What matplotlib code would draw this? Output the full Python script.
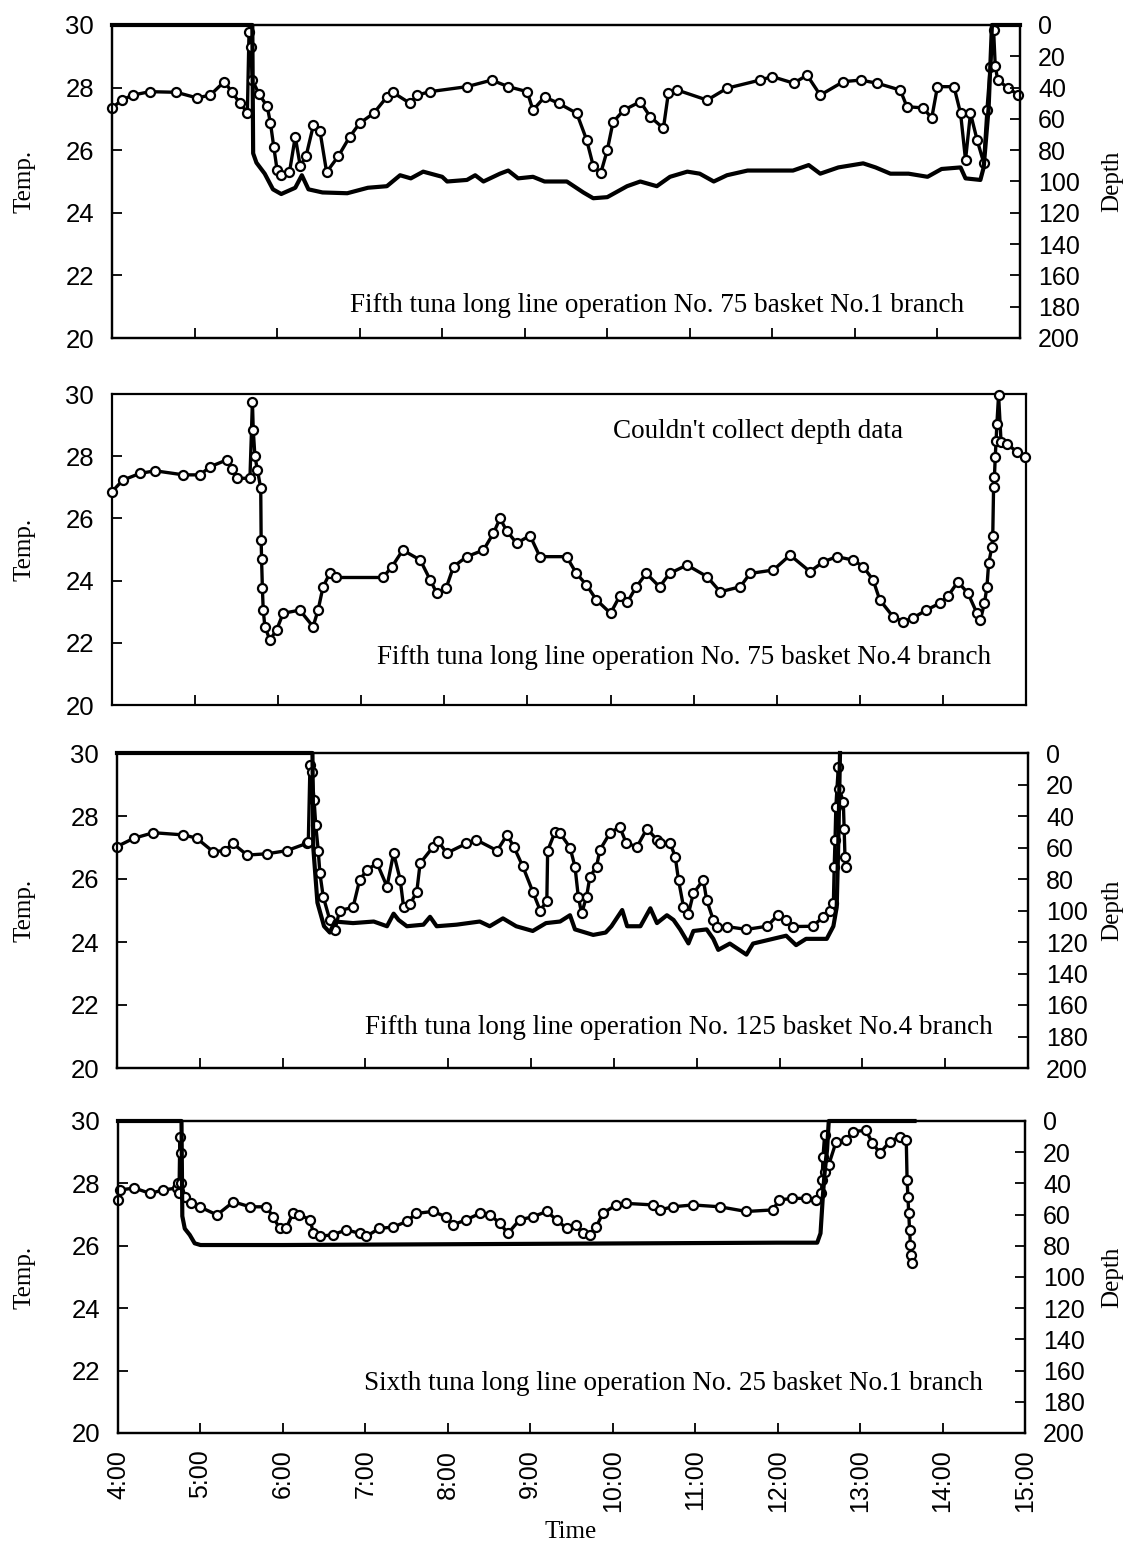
import matplotlib
matplotlib.use("Agg")
import matplotlib.pyplot as plt

# ---------------- data (time in decimal hours) ----------------
p1_temp_t = [4.00, 4.12, 4.25, 4.46, 4.78, 5.03, 5.19, 5.36, 5.45, 5.55, 5.64, 5.66, 5.68, 5.70, 5.78, 5.88,
             5.92, 5.96, 6.00, 6.05, 6.15, 6.22, 6.28, 6.35, 6.44, 6.52, 6.60, 6.74, 6.88, 7.00, 7.17, 7.33,
             7.40, 7.61, 7.70, 7.85, 8.30, 8.60, 8.80, 9.03, 9.10, 9.24, 9.41, 9.63, 9.75, 9.83, 9.92, 10.00,
             10.07, 10.20, 10.40, 10.52, 10.68, 10.74, 10.85, 11.21, 11.45, 11.85, 12.00, 12.26, 12.42, 12.58,
             12.86, 13.07, 13.27, 13.55, 13.63, 13.83, 13.93, 14.00, 14.20, 14.28, 14.34, 14.40, 14.48, 14.56,
             14.60, 14.64, 14.68, 14.70, 14.73, 14.85, 14.98]
p1_temp_v = [27.35, 27.60, 27.76, 27.87, 27.85, 27.67, 27.76, 28.19, 27.87, 27.50, 27.20, 29.79, 29.30, 28.24, 27.80, 27.40,
             26.86, 26.10, 25.37, 25.20, 25.30, 26.43, 25.50, 25.80, 26.80, 26.60, 25.30, 25.80, 26.43, 26.86, 27.18, 27.70,
             27.85, 27.50, 27.76, 27.87, 28.03, 28.24, 28.03, 27.87, 27.28, 27.70, 27.50, 27.18, 26.33, 25.50, 25.26, 26.00,
             26.90, 27.28, 27.55, 27.07, 26.70, 27.82, 27.92, 27.60, 27.98, 28.24, 28.35, 28.14, 28.40, 27.76,
             28.19, 28.24, 28.14, 27.92, 27.39, 27.35, 27.02, 28.03, 28.03, 27.18, 25.69, 27.18, 26.33, 25.60,
             27.30, 28.67, 29.84, 28.70, 28.24, 28.00, 27.76]
p1_depth_t = [4.00, 5.70, 5.71, 5.75, 5.85, 5.95, 6.05, 6.22, 6.30, 6.38, 6.55, 6.85, 7.10, 7.33, 7.49, 7.62,
              7.77, 8.00, 8.06, 8.30, 8.40, 8.50, 8.70, 8.80, 8.92, 9.10, 9.24, 9.51, 9.71, 9.83, 10.00, 10.24,
              10.40, 10.60, 10.76, 10.97, 11.12, 11.29, 11.45, 11.70, 12.05, 12.25, 12.44, 12.58, 12.80, 13.10,
              13.25, 13.43, 13.65, 13.88, 14.05, 14.28, 14.34, 14.52, 14.56, 14.62, 14.66, 15.00]
p1_depth_v = [0, 0, 82, 88, 95, 105, 108, 104, 96, 105, 107, 107.5, 104, 103, 96, 98,
              93.7, 97, 100, 99, 96, 100, 95, 93, 98, 97, 100, 100, 107, 110.7, 110, 103,
              100, 103, 97, 93.7, 95, 100, 96, 93, 93, 93, 89.5, 95, 91, 88.4,
              91, 95, 95, 97, 92, 91, 98, 99, 91, 53, 0, 0]

p2_temp_t = [4.00, 4.13, 4.34, 4.52, 4.86, 5.06, 5.18, 5.38, 5.45, 5.50, 5.66, 5.69, 5.70, 5.72, 5.75, 5.79,
             5.795, 5.80, 5.81, 5.82, 5.84, 5.90, 5.98, 6.06, 6.26, 6.42, 6.48, 6.54, 6.62, 6.70, 7.26, 7.37,
             7.50, 7.71, 7.83, 7.91, 8.02, 8.11, 8.27, 8.47, 8.59, 8.67, 8.75, 8.87, 9.03, 9.15, 9.47, 9.59,
             9.71, 9.83, 10.00, 10.11, 10.20, 10.31, 10.43, 10.59, 10.71, 10.92, 11.16, 11.32, 11.56, 11.68,
             11.96, 12.16, 12.40, 12.56, 12.72, 12.92, 13.04, 13.16, 13.24, 13.40, 13.52, 13.64, 13.80, 13.96,
             14.06, 14.18, 14.30, 14.41, 14.45, 14.50, 14.53, 14.55, 14.59, 14.60, 14.61, 14.62, 14.63, 14.64,
             14.65, 14.67, 14.70, 14.77, 14.89, 14.99]
p2_temp_v = [26.86, 27.23, 27.45, 27.53, 27.40, 27.40, 27.66, 27.88, 27.60, 27.29, 27.29, 29.75, 28.84, 28.00, 27.56, 26.97,
             25.30, 24.70, 23.75, 23.05, 22.52, 22.09, 22.41, 22.95, 23.05, 22.52, 23.05, 23.80, 24.23, 24.10, 24.10, 24.45,
             24.98, 24.66, 24.02, 23.59, 23.75, 24.45, 24.77, 24.98, 25.52, 26.00, 25.60, 25.20, 25.45, 24.77, 24.77, 24.23,
             23.86, 23.38, 22.95, 23.50, 23.30, 23.80, 24.23, 23.80, 24.23, 24.50, 24.13, 23.64, 23.80, 24.23,
             24.34, 24.82, 24.29, 24.60, 24.77, 24.66, 24.45, 24.02, 23.38, 22.84, 22.68, 22.80, 23.05, 23.27,
             23.50, 23.96, 23.60, 22.95, 22.73, 23.27, 23.80, 24.55, 25.09, 25.45, 27.02, 27.34, 27.98, 28.50,
             29.05, 29.97, 28.45, 28.40, 28.14, 27.98]

p3_temp_t = [4.00, 4.20, 4.44, 4.80, 4.96, 5.16, 5.30, 5.40, 5.57, 5.81, 6.05, 6.29, 6.31, 6.33, 6.35, 6.38,
             6.40, 6.43, 6.45, 6.49, 6.57, 6.63, 6.69, 6.85, 6.93, 7.02, 7.14, 7.26, 7.34, 7.42, 7.46, 7.54,
             7.62, 7.66, 7.82, 7.88, 7.98, 8.22, 8.34, 8.59, 8.71, 8.79, 8.90, 9.02, 9.11, 9.19, 9.20, 9.29,
             9.35, 9.47, 9.53, 9.57, 9.61, 9.67, 9.71, 9.79, 9.83, 9.95, 10.07, 10.15, 10.28, 10.40, 10.52,
             10.56, 10.68, 10.74, 10.78, 10.84, 10.90, 10.96, 11.08, 11.12, 11.20, 11.24, 11.36, 11.60, 11.85,
             11.98, 12.08, 12.16, 12.40, 12.53, 12.61, 12.65, 12.66, 12.67, 12.68, 12.71, 12.72, 12.77, 12.78,
             12.79, 12.80]
p3_temp_v = [27.03, 27.29, 27.47, 27.40, 27.30, 26.87, 26.90, 27.13, 26.76, 26.80, 26.90, 27.13, 27.18, 29.62, 29.40, 28.50,
             27.70, 26.90, 26.18, 25.44, 24.70, 24.38, 25.00, 25.10, 25.97, 26.29, 26.50, 25.76, 26.82, 25.97, 25.12, 25.20,
             25.60, 26.50, 27.03, 27.20, 26.82, 27.13, 27.24, 26.90, 27.40, 27.03, 26.40, 25.60, 25.00, 25.30, 26.90, 27.50,
             27.45, 27.00, 26.39, 25.44, 24.91, 25.44, 26.07, 26.39, 26.92, 27.45, 27.66, 27.13, 27.03, 27.60, 27.24,
             27.13, 27.13, 26.71, 25.97, 25.12, 24.90, 25.55, 25.97, 25.33, 24.70, 24.49, 24.49, 24.40, 24.50,
             24.86, 24.70, 24.49, 24.50, 24.80, 25.00, 25.24, 26.39, 27.24, 28.30, 29.57, 28.87, 28.45, 27.60,
             26.71, 26.39]
p3_depth_t = [4.00, 6.36, 6.37, 6.42, 6.50, 6.57, 6.63, 6.85, 7.10, 7.26, 7.34, 7.40, 7.50, 7.70, 7.78, 7.86,
              8.10, 8.38, 8.50, 8.66, 8.82, 9.02, 9.18, 9.35, 9.47, 9.53, 9.75, 9.90, 9.97, 10.10, 10.16, 10.32,
              10.44, 10.52, 10.64, 10.72, 10.80, 10.90, 10.96, 11.12, 11.20, 11.26, 11.40, 11.60, 11.68, 11.92,
              12.08, 12.20, 12.32, 12.57, 12.65, 12.69, 12.71, 12.73]
p3_depth_v = [0, 0, 60, 95, 110, 114, 107, 108, 107, 110, 102, 106, 110, 109, 104, 110,
              109, 107, 110, 105, 110, 113, 108, 107, 103, 112, 115.5, 114, 110, 99.7, 110, 110,
              98.6, 108, 103, 106, 112, 120.9, 113, 112, 118, 125, 121, 128, 121, 118,
              116, 122, 118, 118, 110, 98, 56, 0]

p4_temp_t = [4.00, 4.02, 4.20, 4.39, 4.55, 4.71, 4.73, 4.74, 4.75, 4.76, 4.77, 4.81, 4.88, 4.99, 5.20, 5.40,
             5.60, 5.80, 5.88, 5.96, 6.04, 6.12, 6.20, 6.33, 6.37, 6.45, 6.61, 6.77, 6.93, 7.01, 7.17, 7.34,
             7.50, 7.62, 7.82, 7.98, 8.06, 8.22, 8.39, 8.51, 8.63, 8.73, 8.87, 9.03, 9.20, 9.32, 9.44, 9.56,
             9.64, 9.72, 9.80, 9.88, 10.04, 10.16, 10.49, 10.57, 10.73, 10.97, 11.30, 11.62, 11.94, 12.02,
             12.18, 12.35, 12.47, 12.53, 12.54, 12.55, 12.57, 12.58, 12.62, 12.71, 12.83, 12.91, 13.07, 13.15,
             13.24, 13.36, 13.48, 13.56, 13.57, 13.58, 13.59, 13.60, 13.61, 13.62, 13.63]
p4_temp_v = [27.47, 27.79, 27.85, 27.68, 27.79, 27.85, 28.00, 27.70, 29.50, 28.97, 28.00, 27.57, 27.36, 27.25, 26.99, 27.41,
             27.25, 27.25, 26.93, 26.56, 26.56, 27.04, 27.00, 26.83, 26.40, 26.30, 26.36, 26.51, 26.40, 26.30, 26.56, 26.60,
             26.78, 27.04, 27.10, 26.93, 26.67, 26.83, 27.04, 27.00, 26.72, 26.40, 26.83, 26.93, 27.10, 26.83, 26.56, 26.67,
             26.40, 26.35, 26.61, 27.04, 27.31, 27.36, 27.31, 27.15, 27.25, 27.31, 27.25, 27.10, 27.15, 27.47,
             27.52, 27.52, 27.47, 27.68, 28.10, 28.84, 29.55, 28.37, 28.60, 29.34, 29.40, 29.66, 29.70, 29.30,
             28.97, 29.34, 29.50, 29.40, 28.10, 27.57, 27.04, 26.52, 26.03, 25.70, 25.44]
p4_depth_t = [4.00, 4.77, 4.78, 4.81, 4.87, 4.93, 5.00, 6.00, 8.00, 10.00, 12.00, 12.48, 12.52, 12.55, 12.57,
              12.60, 12.62, 13.66]
p4_depth_v = [0, 0, 61, 69, 73, 78.4, 79.5, 79.5, 79, 78.5, 78, 78, 72, 47, 33, 18, 0, 0]

temp_ticks = [20, 22, 24, 26, 28, 30]
depth_ticks = [0, 20, 40, 60, 80, 100, 120, 140, 160, 180, 200]
hour_ticks = [4, 5, 6, 7, 8, 9, 10, 11, 12, 13, 14, 15]
hour_labels = ["4:00", "5:00", "6:00", "7:00", "8:00", "9:00", "10:00", "11:00", "12:00", "13:00", "14:00", "15:00"]

titles = ["Fifth tuna long line operation No. 75 basket No.1 branch",
          "Fifth tuna long line operation No. 75 basket No.4 branch",
          "Fifth tuna long line operation No. 125 basket No.4 branch",
          "Sixth tuna long line operation No. 25 basket No.1 branch"]
no_depth_note = "Couldn't collect depth data"

# ---------------- layout ----------------
W, H = 1131, 1546
fig = plt.figure(figsize=(W / 100, H / 100), dpi=100)
SERIF = "Liberation Serif"
SANS = "Liberation Sans"

# (left, right, top, bottom) in pixels
boxes = [(112, 1020, 25, 338), (112, 1026, 394, 705), (117, 1028, 753, 1068), (118, 1025, 1121, 1433)]
title_pos = [(0.600, 0.105), (0.626, 0.154), (0.617, 0.130), (0.612, 0.160)]

temps = [(p1_temp_t, p1_temp_v), (p2_temp_t, p2_temp_v), (p3_temp_t, p3_temp_v), (p4_temp_t, p4_temp_v)]
depths = [(p1_depth_t, p1_depth_v), None, (p3_depth_t, p3_depth_v), (p4_depth_t, p4_depth_v)]

for i, (l, r, t, b) in enumerate(boxes):
    ax = fig.add_axes([l / W, 1 - b / H, (r - l) / W, (b - t) / H])
    ax.set_xlim(4, 15)
    ax.set_ylim(20, 30)
    ax.set_yticks(temp_ticks)
    ax.set_xticks(hour_ticks)
    ax.tick_params(axis="both", direction="in", length=7, width=1.3, colors="black")
    ax.tick_params(axis="y", labelsize=18.5, pad=13)
    for lab in ax.get_yticklabels():
        lab.set_fontfamily(SANS)
    if i == 3:
        ax.set_xticklabels(hour_labels, rotation=90, fontsize=18, family=SANS)
        ax.tick_params(axis="x", pad=12)
    else:
        ax.set_xticklabels([])
    for s in ax.spines.values():
        s.set_linewidth(1.6)
    ax.text((24 - l) / (r - l), 0.5, "Temp.", rotation=90, family=SERIF, fontsize=18,
            ha="center", va="center", transform=ax.transAxes)

    tt, tv = temps[i]
    ax.plot(tt, tv, color="black", lw=2.4, marker="o", ms=6.5, mfc="white", mec="black",
            mew=1.6, zorder=3, clip_on=False)

    ax.text(title_pos[i][0], title_pos[i][1], titles[i], family=SERIF, fontsize=19.5,
            ha="center", va="center", transform=ax.transAxes)

    if depths[i] is not None:
        ax2 = ax.twinx()
        ax2.set_ylim(200, 0)
        ax2.set_yticks(depth_ticks)
        ax2.tick_params(axis="y", direction="in", length=7, width=1.3, labelsize=18, pad=13)
        for lab in ax2.get_yticklabels():
            lab.set_fontfamily(SANS)
        for s in ax2.spines.values():
            s.set_linewidth(1.6)
        dt, dv = depths[i]
        ax2.plot(dt, dv, color="black", lw=3.0, zorder=2, clip_on=False)
        ax2.text((1112 - l) / (r - l), 0.5, "Depth", rotation=90, family=SERIF, fontsize=18,
                 ha="center", va="center", transform=ax2.transAxes)
    else:
        ax.text(0.707, 0.878, no_depth_note, family=SERIF, fontsize=19.5,
                ha="center", va="center", transform=ax.transAxes)

fig.text(571 / W, 1 - 1532 / H, "Time", family=SERIF, fontsize=18, ha="center", va="center")

fig.savefig("out.png", dpi=100)
